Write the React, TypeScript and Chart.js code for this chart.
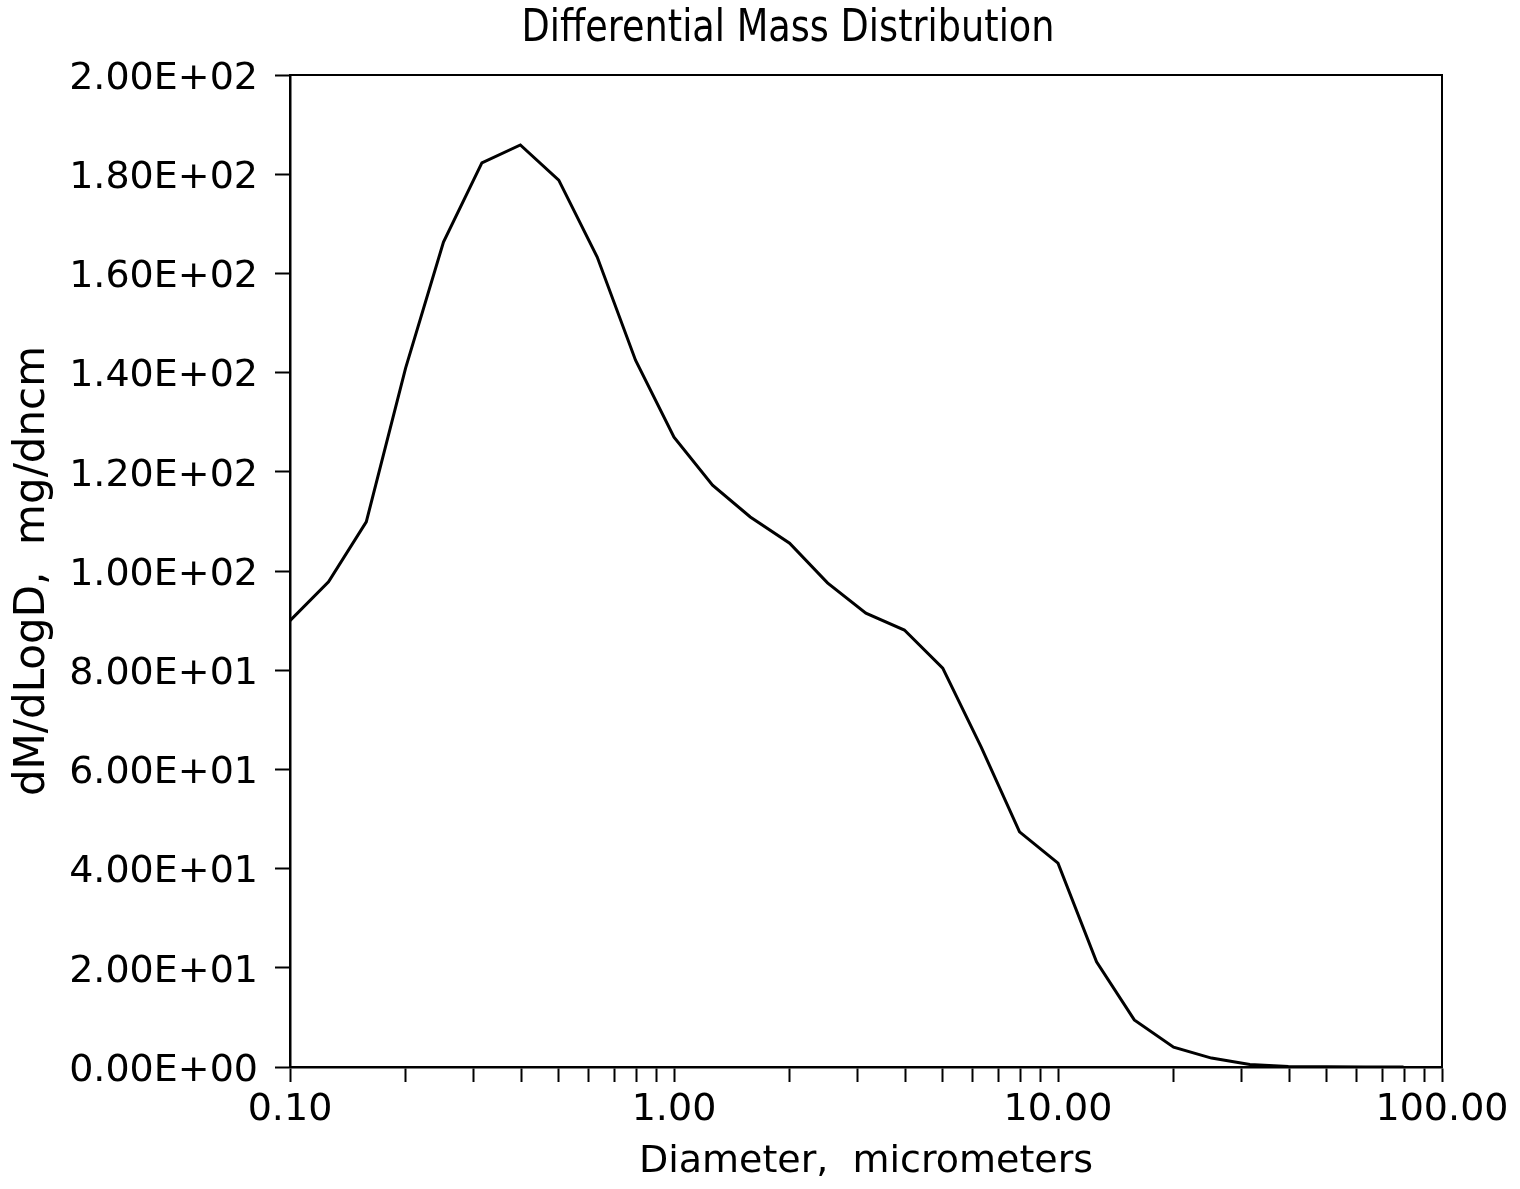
import React, { useEffect, useRef } from "react";
import { Chart, registerables } from "chart.js";

Chart.register(...registerables);

// Diameter (micrometers) – log-spaced sampling points
const diameters = [
  0.1, 0.126, 0.158, 0.2, 0.251, 0.316, 0.398, 0.501, 0.631, 0.794,
  1.0, 1.26, 1.58, 2.0, 2.51, 3.16, 3.98, 5.01, 6.31, 7.94,
  10.0, 12.6, 15.8, 20.0, 25.1, 31.6, 39.8, 50.1, 63.1, 79.4,
];

// dM/dLogD, mg/dncm
const massValues = [
  90.0, 97.8, 109.9, 140.9, 166.3, 182.3, 185.9, 178.8, 163.3, 142.5,
  127.0, 117.3, 110.9, 105.6, 97.6, 91.5, 88.1, 80.4, 64.5, 47.4,
  41.1, 21.2, 9.5, 4.0, 1.8, 0.5, 0.1, 0.05, 0.02, 0.01,
];

const xTickValues = [
  0.1, 0.2, 0.3, 0.4, 0.5, 0.6, 0.7, 0.8, 0.9,
  1, 2, 3, 4, 5, 6, 7, 8, 9,
  10, 20, 30, 40, 50, 60, 70, 80, 90, 100,
];
const xLabeledTicks = [0.1, 1, 10, 100];

const chartTitle = "Differential Mass Distribution";
const xTitle = "Diameter,  micrometers";
const yTitle = "dM/dLogD,  mg/dncm";

const fmtSci = (v: number): string => {
  if (Math.abs(v) < 1e-12) return "0.00E+00";
  const e = Math.floor(Math.log10(Math.abs(v)) + 1e-9);
  const m = v / Math.pow(10, e);
  return m.toFixed(2) + "E" + (e < 0 ? "-" : "+") + String(Math.abs(e)).padStart(2, "0");
};

const FONT = "'DejaVu Sans', 'Liberation Sans', sans-serif";

const framePlugin = {
  id: "frameAndTitle",
  afterDraw(chart: any) {
    const { ctx, chartArea } = chart;
    ctx.save();
    ctx.strokeStyle = "#000";
    ctx.lineWidth = 2;
    ctx.beginPath();
    ctx.moveTo(chartArea.left, chartArea.top);
    ctx.lineTo(chartArea.right, chartArea.top);
    ctx.lineTo(chartArea.right, chartArea.bottom);
    ctx.stroke();

    ctx.font = "45px " + FONT;
    ctx.fillStyle = "#000";
    ctx.textAlign = "center";
    ctx.textBaseline = "middle";
    const w = ctx.measureText(chartTitle).width;
    const sx = 533 / w;
    ctx.translate(788, 29);
    ctx.scale(sx, 1);
    ctx.fillText(chartTitle, 0, 0);
    ctx.restore();
  },
};

export default function App() {
  const ref = useRef<HTMLCanvasElement | null>(null);

  useEffect(() => {
    if (!ref.current) return;
    Chart.defaults.color = "#000";
    const chart = new Chart(ref.current, {
      type: "line",
      data: {
        datasets: [
          {
            data: diameters.map((d, i) => ({ x: d, y: massValues[i] })),
            borderColor: "#000",
            borderWidth: 3,
            pointRadius: 0,
            tension: 0,
            fill: false,
          },
        ],
      },
      options: {
        responsive: false,
        animation: false,
        devicePixelRatio: 1,
        layout: { padding: { top: 75, right: 78, left: 0, bottom: 0 } },
        plugins: {
          legend: { display: false },
          title: { display: false },
          tooltip: { enabled: false },
        },
        scales: {
          x: {
            type: "logarithmic",
            min: 0.1,
            max: 100,
            afterBuildTicks: (scale: any) => {
              scale.ticks = xTickValues.map((v) => ({ value: v }));
            },
            afterFit: (scale: any) => {
              scale.height = 122;
            },
            ticks: {
              autoSkip: false,
              maxRotation: 0,
              minRotation: 0,
              padding: 5,
              color: "#000",
              font: { family: FONT, size: 38 },
              callback: (value: any) => {
                const v = Number(value);
                return xLabeledTicks.some((t) => Math.abs(t - v) < 1e-9) ? v.toFixed(2) : "";
              },
            },
            grid: {
              display: true,
              drawOnChartArea: false,
              drawTicks: true,
              tickLength: 15,
              tickWidth: 2,
              tickColor: "#000",
            },
            border: { display: true, color: "#000", width: 2.5 },
            title: {
              display: true,
              text: xTitle,
              color: "#000",
              font: { family: FONT, size: 38 },
              padding: { top: 0, bottom: 4 },
            },
          },
          y: {
            type: "linear",
            min: 0,
            max: 200,
            afterFit: (scale: any) => {
              scale.width = 290;
            },
            ticks: {
              stepSize: 20,
              padding: 17,
              labelOffset: 4,
              color: "#000",
              font: { family: FONT, size: 38 },
              callback: (value: any) => fmtSci(Number(value)),
            },
            grid: {
              display: true,
              drawOnChartArea: false,
              drawTicks: true,
              tickLength: 15,
              tickWidth: 2,
              tickColor: "#000",
            },
            border: { display: true, color: "#000", width: 2.5 },
            title: {
              display: true,
              text: yTitle,
              color: "#000",
              font: { family: FONT, size: 42 },
              padding: { top: 8, bottom: 0 },
            },
          },
        },
      },
      plugins: [framePlugin],
    });
    return () => chart.destroy();
  }, []);

  return (
    <div style={{ position: "absolute", left: 0, top: 0, width: 1520, height: 1189, background: "#fff" }}>
      <canvas ref={ref} width={1520} height={1189} style={{ display: "block" }} />
    </div>
  );
}
